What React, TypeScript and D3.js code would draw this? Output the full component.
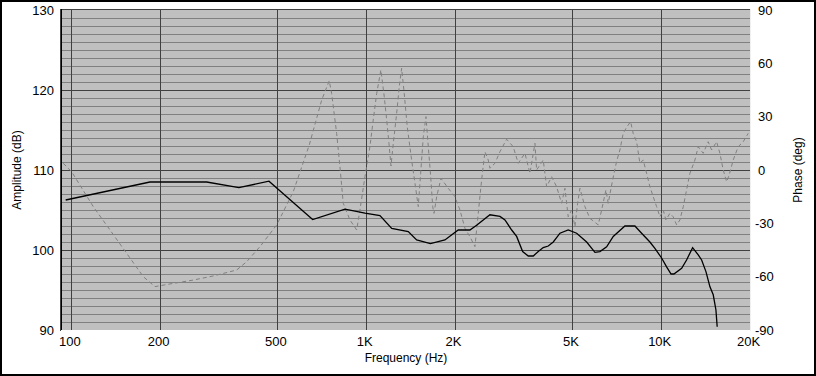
import React from "react";
import * as d3 from "d3";

// ---- data ----
const freqTicks = [100, 200, 500, 1000, 2000, 5000, 10000, 20000];
const freqTickLabels = ["100", "200", "500", "1K", "2K", "5K", "10K", "20K"];
const ampTicks = [90, 100, 110, 120, 130];
const phaseTicks = [-90, -60, -30, 0, 30, 60, 90];

// Amplitude (dB) response: frequency (Hz) and level
const ampFreq = [95.7, 184.8, 287.7, 370, 468, 658, 847, 990, 1113, 1220, 1388, 1482, 1650, 1848, 2050, 2246, 2367, 2626, 2840, 2953, 3112, 3235, 3390, 3542, 3683, 3830, 3981, 4141, 4306, 4537, 4838, 5168, 5587, 5962, 6198, 6531, 6877, 7532, 8144, 8581, 9155, 9520, 10030, 10430, 10800, 11040, 11730, 12190, 12780, 13350, 13710, 14180, 14630, 15010, 15330, 15480];
const ampDb = [106.25, 108.5, 108.5, 107.8, 108.6, 103.8, 105.1, 104.6, 104.3, 102.7, 102.3, 101.25, 100.8, 101.25, 102.5, 102.5, 103.1, 104.4, 104.2, 103.75, 102.5, 101.7, 99.8, 99.25, 99.25, 99.8, 100.3, 100.5, 101.0, 102.1, 102.5, 102.1, 101.0, 99.7, 99.8, 100.4, 101.7, 103.0, 103.0, 102.1, 101.0, 100.2, 99.0, 97.9, 97.0, 97.0, 97.7, 98.75, 100.3, 99.4, 98.75, 97.3, 95.4, 94.4, 92.5, 90.4];

// Phase (deg) response
const phaseFreq = [93.9, 100.3, 118.7, 135.3, 154.1, 175.4, 192.2, 216.1, 259.2, 302.9, 363.6, 393.1, 436.2, 497, 565.7, 641, 706.3, 749, 763.2, 793.7, 814.3, 835.6, 880.5, 927.9, 951.9, 990, 1029, 1056, 1085, 1121, 1151, 1173, 1194, 1213, 1235, 1268, 1294, 1318, 1345, 1377, 1425, 1463, 1501, 1529, 1561, 1594, 1623, 1654, 1680, 1697, 1733, 1792, 1897, 1998, 2078, 2161, 2246, 2336, 2397, 2461, 2526, 2592, 2626, 2731, 2840, 2991, 3149, 3276, 3451, 3589, 3732, 3781, 3981, 4088, 4251, 4419, 4596, 4716, 4838, 4969, 5099, 5207, 5302, 5512, 5732, 6116, 6281, 6495, 6612, 6844, 7062, 7244, 7433, 7632, 7874, 8036, 8252, 8467, 8690, 8923, 9155, 9395, 9647, 9899, 10160, 10370, 10700, 10980, 11280, 11570, 11880, 12190, 12510, 13010, 13350, 13880, 14430, 14820, 15410, 15810, 16230, 16660, 17000, 17540, 18240, 18970, 19720];
const phaseDeg = [3.8, -1, -20.6, -33.75, -46.9, -60, -65.6, -64.1, -61.9, -59.6, -56.25, -51.6, -43.1, -30.9, -12.2, 14.1, 39.4, 50.2, 43.1, 20.6, 1.9, -18.7, -28.1, -33.75, -22.5, -3.8, 13.1, 28.1, 43.1, 56.25, 41.2, 28.1, 15, 2.25, 15, 31.9, 46.9, 57.2, 43.1, 24.4, 5.6, -7.5, -20.6, -1.9, 18.7, 30, 13.1, -3.8, -20.6, -24.4, -15, -4.7, -10.3, -15, -22.5, -32.8, -37.5, -43.1, -24.4, -5.6, 10.3, 5.6, 1, 3.8, 10.3, 17.3, 13.1, 3.8, 9.4, -1.9, 15, 0, 5.6, -9.4, -3.8, -9.4, -18.7, -10.3, -26.3, -22.5, -31.9, -18.7, -10.3, -20.6, -27.2, -30.9, -22.5, -11.25, -18.7, -5.6, 5, 11.25, 20.6, 24, 27.2, 20.6, 15.9, 3.8, 5.6, -1.9, -9.4, -15, -20.6, -26.3, -22.5, -28.1, -24.4, -26.3, -30.9, -28.1, -20.6, -11.25, -1.9, 5.6, 13.1, 9.4, 15.9, 11.25, 15.9, 9.4, 0, -6.6, -2.8, 5.6, 13.1, 15.9, 20.6];

const W = 816;
const H = 376;
const L = 62, R = 750, T = 10, B = 330;
const FONT = "'Liberation Sans', Arial, sans-serif";

export default function App() {
  const x = d3.scaleLog().domain([93, 20000]).range([L, R]);
  const yA = d3.scaleLinear().domain([90, 130]).range([B, T]);
  const yP = d3.scaleLinear().domain([-90, 90]).range([B, T]);

  const minorDb = d3.range(91, 130, 1).filter((v) => v % 10 !== 0);
  const majorDb = [100, 110, 120];

  const ampLine = d3
    .line<number>()
    .x((_, i) => x(ampFreq[i]))
    .y((d) => yA(d));
  const phaseLine = d3
    .line<number>()
    .x((_, i) => x(phaseFreq[i]))
    .y((d) => yP(d));

  const px = (v: number) => Math.round(v) + 0.5;

  return (
    <svg
      width={W}
      height={H}
      style={{ position: "absolute", left: 0, top: 0, display: "block" }}
      fontFamily={FONT}
    >
      <rect x={0} y={0} width={W} height={H} fill="#000" />
      <rect x={2} y={2} width={W - 4} height={H - 4} fill="#fff" />
      <defs>
        <clipPath id="plotclip">
          <rect x={L} y={T} width={R - L} height={B - T} />
        </clipPath>
      </defs>
      {/* plot background */}
      <rect x={L} y={T} width={R - L} height={B - T} fill="#c0c0c0" />
      {/* minor horizontal grid */}
      {minorDb.map((v) => (
        <line key={"mn" + v} x1={L} x2={R} y1={px(yA(v))} y2={px(yA(v))} stroke="#808080" strokeWidth={1} />
      ))}
      {majorDb.map((v) => (
        <line key={"mj" + v} x1={L} x2={R} y1={px(yA(v))} y2={px(yA(v))} stroke="#404040" strokeWidth={1} />
      ))}
      {freqTicks.slice(0, -1).map((f) => (
        <line key={"v" + f} x1={px(x(f))} x2={px(x(f))} y1={T} y2={B} stroke="#404040" strokeWidth={1} />
      ))}
      {/* panel border (sunken) */}
      <line x1={L} x2={R + 1} y1={T - 0.5} y2={T - 0.5} stroke="#404040" />
      <line x1={L - 0.5} x2={L - 0.5} y1={T - 1} y2={B + 1} stroke="#000" />
      <line x1={L - 1.5} x2={L - 1.5} y1={T - 1} y2={B + 1} stroke="#404040" />
      <line x1={L - 1} x2={R + 1} y1={B + 0.5} y2={B + 0.5} stroke="#fff" />
      <line x1={R + 0.5} x2={R + 0.5} y1={T - 1} y2={B + 1} stroke="#f0f0f0" />

      <g clipPath="url(#plotclip)">
        <path d={phaseLine(phaseDeg) || ""} fill="none" stroke="#808080" strokeWidth={1} strokeDasharray="4,3" />
        <path d={ampLine(ampDb) || ""} fill="none" stroke="#000" strokeWidth={1.3} />
      </g>

      {/* left axis labels */}
      {ampTicks.map((v) => (
        <text key={"a" + v} x={54} y={yA(v)} textAnchor="end" dominantBaseline="central" fontSize={13} fill="#000">
          {v}
        </text>
      ))}
      {/* right axis labels */}
      {phaseTicks.map((v) => (
        <text key={"p" + v} x={v < 0 ? 755 : 758} y={yP(v)} textAnchor="start" dominantBaseline="central" fontSize={13} fill="#000">
          {v}
        </text>
      ))}
      {/* bottom labels */}
      {freqTicks.map((f, i) => (
        <text key={"f" + f} x={x(f) - 1.5} y={341} textAnchor="middle" dominantBaseline="central" fontSize={13} fill="#000">
          {freqTickLabels[i]}
        </text>
      ))}
      <text x={406} y={358} textAnchor="middle" dominantBaseline="central" fontSize={12} fill="#000">
        Frequency (Hz)
      </text>
      <text transform={`translate(17,170) rotate(-90)`} textAnchor="middle" dominantBaseline="central" fontSize={12} fill="#000">
        Amplitude (dB)
      </text>
      <text transform={`translate(798,170) rotate(-90)`} textAnchor="middle" dominantBaseline="central" fontSize={12} fill="#000">
        Phase (deg)
      </text>
    </svg>
  );
}
